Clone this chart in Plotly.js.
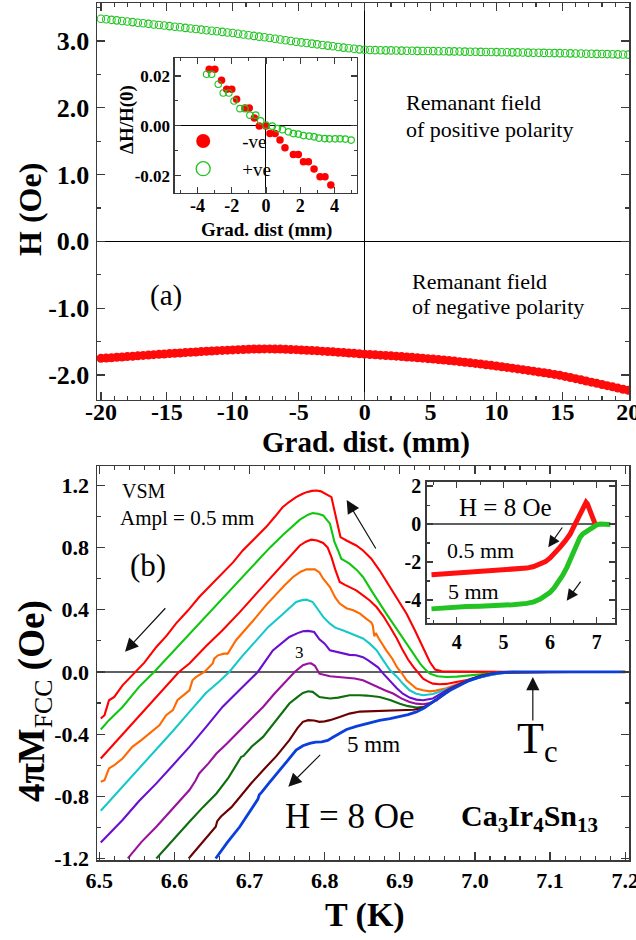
<!DOCTYPE html>
<html>
<head>
<meta charset="utf-8">
<script src="https://cdn.plot.ly/plotly-3.0.1.min.js"></script>
<style>
  html, body { margin: 0; padding: 0; background: #fff; }
  #chart { width: 636px; height: 940px; }
</style>
</head>
<body>
<div id="chart"></div>
<script>
// ---------- Panel (a): remanant field vs gradiometer distance ----------
const gradDist = [-20,-19.6,-19.2,-18.8,-18.4,-18,-17.6,-17.2,-16.8,-16.4,-16,-15.6,-15.2,-14.8,-14.4,-14,-13.6,-13.2,-12.8,-12.4,
  -12,-11.6,-11.2,-10.8,-10.4,-10,-9.6,-9.2,-8.8,-8.4,-8,-7.6,-7.2,-6.8,-6.4,-6,-5.6,-5.2,-4.8,-4.4,
  -4,-3.6,-3.2,-2.8,-2.4,-2,-1.6,-1.2,-0.8,-0.4,0,0.4,0.8,1.2,1.6,2,2.4,2.8,3.2,3.6,
  4,4.4,4.8,5.2,5.6,6,6.4,6.8,7.2,7.6,8,8.4,8.8,9.2,9.6,10,10.4,10.8,11.2,11.6,
  12,12.4,12.8,13.2,13.6,14,14.4,14.8,15.2,15.6,16,16.4,16.8,17.2,17.6,18,18.4,18.8,19.2,19.6,20];

const fieldPositive = [3.335,3.326,3.318,3.310,3.300,3.292,3.284,3.274,3.267,3.258,
  3.249,3.240,3.232,3.224,3.214,3.206,3.198,3.189,3.180,3.172,
  3.163,3.155,3.146,3.137,3.128,3.120,3.110,3.098,3.088,3.077,
  3.066,3.056,3.045,3.034,3.023,3.012,3.001,2.990,2.980,2.970,
  2.961,2.951,2.942,2.932,2.922,2.912,2.902,2.893,2.884,2.876,
  2.870,2.866,2.864,2.863,2.861,2.860,2.858,2.857,2.856,2.855,
  2.853,2.852,2.851,2.850,2.848,2.847,2.846,2.845,2.843,2.842,
  2.841,2.840,2.838,2.837,2.836,2.835,2.833,2.832,2.831,2.830,
  2.828,2.827,2.826,2.824,2.823,2.822,2.820,2.819,2.817,2.816,
  2.814,2.813,2.811,2.810,2.808,2.806,2.805,2.803,2.801,2.799,2.797];

const fieldNegative = [-1.752,-1.747,-1.742,-1.736,-1.731,-1.725,-1.720,-1.714,-1.708,-1.703,
  -1.697,-1.692,-1.686,-1.681,-1.676,-1.671,-1.666,-1.661,-1.656,-1.651,
  -1.646,-1.642,-1.637,-1.633,-1.629,-1.625,-1.622,-1.619,-1.616,-1.613,
  -1.611,-1.610,-1.610,-1.611,-1.613,-1.616,-1.619,-1.622,-1.626,-1.630,
  -1.634,-1.639,-1.644,-1.649,-1.654,-1.660,-1.665,-1.671,-1.677,-1.683,
  -1.689,-1.694,-1.699,-1.704,-1.709,-1.714,-1.719,-1.725,-1.731,-1.737,
  -1.743,-1.749,-1.756,-1.763,-1.770,-1.777,-1.785,-1.793,-1.801,-1.810,
  -1.819,-1.828,-1.837,-1.847,-1.857,-1.867,-1.877,-1.888,-1.899,-1.910,
  -1.921,-1.932,-1.944,-1.956,-1.968,-1.980,-1.992,-2.005,-2.022,-2.039,
  -2.056,-2.073,-2.091,-2.108,-2.126,-2.143,-2.161,-2.179,-2.197,-2.215,-2.230];

// inset of (a): relative field change near the centre
const insetDistNeg = [-3.32,-2.99,-2.6,-2.3,-2.0,-1.72,-1.23,-0.98,-0.68,-0.39,0.0,0.23,0.53,0.82,1.11,1.6,1.89,2.19,2.48,2.81,3.16,3.45,3.79];
const insetRelNeg = [0.0227,0.0227,0.0183,0.0147,0.0147,0.0107,0.0072,0.0072,0.0032,0.0,0.0,-0.0031,-0.0031,-0.0057,-0.0088,-0.0115,-0.0115,-0.0144,-0.0144,-0.0173,-0.0204,-0.0204,-0.0237];
const insetDistPos = [-3.47,-3.18,-2.79,-2.5,-2.17,-1.87,-1.52,-1.23,-0.94,-0.6,-0.31,0.0,0.37,0.66,0.96,1.31,1.6,1.89,2.19,2.52,2.81,3.1,3.43,3.71,4.04,4.33,4.64,4.98];
const insetRelPos = [0.0207,0.0207,0.0167,0.0132,0.0132,0.01,0.0069,0.0069,0.0043,0.0043,0.002,0.0003,-0.0001,-0.0011,-0.0015,-0.0024,-0.0031,-0.0033,-0.0039,-0.0041,-0.0044,-0.0049,-0.0051,-0.0052,-0.0052,-0.0052,-0.0053,-0.0057];
const insetSeriesNames = ['-ve', '+ve'];

// ---------- Panel (b): FCC magnetisation for increasing VSM amplitude ----------
const fccColors = ['#ff0000','#11c611','#ff0000','#ff6a00','#18c8c8','#6a0fd0','#99119e','#0d6e0d','#6b0000','#0a3fdc'];

const fccT = [
  [6.502,6.507,6.513,6.520,6.531,6.540,6.549,6.560,6.576,6.590,6.602,6.618,6.633,6.649,6.664,6.678,6.691,6.707,6.722,6.734,6.744,6.753,6.762,6.770,6.776,6.783,6.789,6.795,6.802,6.809,6.816,6.821,6.829,6.842,6.851,6.862,6.873,6.884,6.896,6.909,6.920,6.931,6.940,6.947,6.956,6.975,7.000,7.030,7.060,7.100,7.150,7.200],
  [6.502,6.513,6.531,6.553,6.573,6.597,6.620,6.642,6.664,6.687,6.709,6.727,6.744,6.756,6.767,6.778,6.784,6.791,6.798,6.807,6.813,6.818,6.822,6.828,6.833,6.843,6.851,6.862,6.873,6.882,6.891,6.900,6.909,6.918,6.927,6.934,6.940,6.950,6.962,6.976,6.990,7.002,7.018,7.033,7.060,7.100,7.150,7.200],
  [6.502,6.520,6.540,6.560,6.584,6.606,6.620,6.642,6.664,6.687,6.709,6.727,6.744,6.756,6.767,6.775,6.782,6.790,6.798,6.804,6.809,6.814,6.820,6.827,6.833,6.842,6.851,6.860,6.869,6.878,6.887,6.896,6.904,6.911,6.918,6.925,6.931,6.938,6.944,6.953,6.962,6.975,6.989,7.002,7.016,7.030,7.045,7.080,7.130,7.200],
  [6.502,6.507,6.513,6.520,6.531,6.544,6.556,6.567,6.580,6.589,6.598,6.604,6.612,6.620,6.624,6.629,6.640,6.647,6.651,6.653,6.658,6.666,6.671,6.682,6.696,6.709,6.722,6.736,6.747,6.758,6.768,6.776,6.787,6.793,6.798,6.807,6.814,6.820,6.829,6.838,6.847,6.856,6.862,6.864,6.866,6.868,6.872,6.882,6.890,6.896,6.903,6.909,6.916,6.922,6.931,6.940,6.948,6.962,6.975,6.989,7.002,7.016,7.030,7.045,7.080,7.130,7.200],
  [6.502,6.531,6.553,6.576,6.598,6.620,6.642,6.660,6.673,6.690,6.709,6.725,6.740,6.752,6.762,6.770,6.776,6.784,6.791,6.798,6.807,6.814,6.824,6.834,6.842,6.851,6.860,6.869,6.878,6.887,6.896,6.904,6.913,6.922,6.931,6.944,6.953,6.962,6.975,6.989,7.002,7.016,7.033,7.050,7.080,7.130,7.200],
  [6.502,6.531,6.553,6.576,6.598,6.620,6.642,6.664,6.688,6.711,6.731,6.745,6.753,6.764,6.771,6.778,6.786,6.793,6.800,6.807,6.816,6.824,6.833,6.842,6.851,6.858,6.864,6.871,6.878,6.887,6.896,6.904,6.913,6.922,6.931,6.944,6.955,6.967,6.980,6.993,7.008,7.024,7.040,7.060,7.100,7.150,7.200],
  [6.538,6.556,6.576,6.598,6.620,6.628,6.633,6.645,6.656,6.670,6.687,6.702,6.718,6.733,6.749,6.760,6.771,6.778,6.782,6.787,6.793,6.800,6.807,6.818,6.829,6.840,6.851,6.860,6.869,6.880,6.891,6.902,6.913,6.922,6.931,6.940,6.949,6.958,6.967,6.980,6.993,7.008,7.024,7.040,7.060,7.100,7.150,7.200],
  [6.576,6.598,6.620,6.638,6.656,6.672,6.686,6.689,6.692,6.703,6.718,6.736,6.753,6.764,6.771,6.778,6.784,6.793,6.800,6.807,6.818,6.833,6.847,6.856,6.873,6.887,6.900,6.911,6.922,6.933,6.944,6.955,6.967,6.980,6.993,7.008,7.024,7.040,7.060,7.100,7.150,7.200],
  [6.619,6.637,6.655,6.657,6.662,6.676,6.687,6.702,6.718,6.736,6.753,6.764,6.771,6.778,6.786,6.793,6.800,6.807,6.820,6.833,6.847,6.856,6.873,6.887,6.900,6.918,6.930,6.944,6.956,6.967,6.980,6.993,7.008,7.024,7.040,7.060,7.100,7.150,7.200],
  [6.655,6.670,6.687,6.700,6.711,6.713,6.716,6.725,6.736,6.749,6.762,6.771,6.780,6.788,6.796,6.804,6.811,6.820,6.829,6.842,6.856,6.873,6.887,6.900,6.911,6.922,6.933,6.944,6.955,6.967,6.980,6.993,7.008,7.024,7.038,7.051,7.080,7.120,7.160,7.200]
];

const fccM = [
  [-0.300,-0.278,-0.182,-0.161,-0.086,-0.040,0.000,0.060,0.161,0.235,0.311,0.395,0.482,0.560,0.632,0.705,0.782,0.860,0.932,1.000,1.060,1.095,1.125,1.145,1.157,1.165,1.168,1.162,1.146,1.125,0.975,0.868,0.846,0.814,0.782,0.729,0.654,0.568,0.482,0.375,0.268,0.161,0.064,0.015,0.004,0.002,0.000,0.000,0.000,0.000,0.000,0.000],
  [-0.370,-0.310,-0.225,-0.096,0.000,0.125,0.245,0.360,0.475,0.590,0.710,0.800,0.880,0.935,0.980,1.012,1.022,1.018,1.007,0.954,0.836,0.780,0.729,0.712,0.697,0.655,0.611,0.525,0.440,0.375,0.311,0.246,0.182,0.118,0.054,0.015,-0.011,-0.028,-0.032,-0.030,-0.024,-0.020,-0.010,-0.004,0.000,0.000,0.000,0.000],
  [-0.557,-0.460,-0.355,-0.245,-0.118,0.000,0.054,0.165,0.268,0.385,0.504,0.600,0.697,0.760,0.814,0.838,0.851,0.846,0.830,0.800,0.739,0.660,0.579,0.560,0.546,0.525,0.493,0.460,0.418,0.360,0.289,0.215,0.139,0.080,0.032,-0.010,-0.043,-0.062,-0.075,-0.079,-0.077,-0.065,-0.054,-0.040,-0.025,-0.012,-0.003,0.000,0.000,0.000],
  [-0.707,-0.696,-0.621,-0.600,-0.557,-0.482,-0.439,-0.396,-0.343,-0.278,-0.246,-0.182,-0.150,-0.118,-0.054,-0.032,0.000,0.032,0.054,0.086,0.107,0.118,0.118,0.204,0.280,0.354,0.430,0.504,0.560,0.611,0.645,0.660,0.660,0.640,0.600,0.546,0.480,0.440,0.410,0.397,0.375,0.340,0.318,0.300,0.230,0.250,0.215,0.139,0.085,0.032,-0.010,-0.054,-0.085,-0.107,-0.118,-0.125,-0.120,-0.105,-0.080,-0.055,-0.035,-0.018,-0.006,-0.001,0.000,0.000,0.000],
  [-0.893,-0.739,-0.620,-0.503,-0.380,-0.257,-0.135,-0.060,0.000,0.100,0.204,0.290,0.354,0.410,0.450,0.462,0.465,0.450,0.400,0.354,0.311,0.285,0.268,0.250,0.236,0.215,0.182,0.140,0.075,0.010,-0.030,-0.075,-0.118,-0.140,-0.150,-0.142,-0.128,-0.112,-0.088,-0.062,-0.042,-0.024,-0.009,-0.002,0.000,0.000,0.000],
  [-1.097,-0.953,-0.830,-0.717,-0.600,-0.482,-0.355,-0.225,-0.110,0.000,0.139,0.190,0.225,0.250,0.262,0.264,0.257,0.210,0.182,0.139,0.129,0.118,0.110,0.107,0.095,0.075,0.054,0.030,-0.011,-0.060,-0.105,-0.140,-0.165,-0.178,-0.182,-0.171,-0.140,-0.105,-0.075,-0.047,-0.025,-0.008,-0.002,0.000,0.000,0.000,0.000],
  [-1.200,-1.095,-0.996,-0.880,-0.760,-0.700,-0.653,-0.590,-0.525,-0.460,-0.375,-0.300,-0.225,-0.140,-0.054,0.000,0.043,0.054,0.055,0.040,-0.011,-0.022,-0.028,-0.032,-0.036,-0.042,-0.054,-0.075,-0.095,-0.118,-0.139,-0.170,-0.193,-0.204,-0.208,-0.200,-0.182,-0.150,-0.113,-0.080,-0.050,-0.025,-0.009,-0.002,0.000,0.000,0.000,0.000],
  [-1.200,-1.080,-0.964,-0.870,-0.782,-0.680,-0.570,-0.546,-0.540,-0.480,-0.418,-0.310,-0.203,-0.160,-0.135,-0.124,-0.128,-0.161,-0.168,-0.171,-0.165,-0.150,-0.150,-0.152,-0.161,-0.180,-0.204,-0.220,-0.229,-0.225,-0.195,-0.155,-0.113,-0.080,-0.050,-0.025,-0.009,-0.002,0.000,0.000,0.000,0.000],
  [-1.200,-1.100,-0.996,-0.960,-0.930,-0.870,-0.803,-0.718,-0.632,-0.540,-0.439,-0.360,-0.321,-0.310,-0.312,-0.321,-0.318,-0.310,-0.290,-0.268,-0.255,-0.253,-0.253,-0.250,-0.245,-0.243,-0.232,-0.192,-0.150,-0.115,-0.080,-0.052,-0.026,-0.010,-0.002,0.000,0.000,0.000,0.000],
  [-1.200,-1.100,-0.996,-0.900,-0.820,-0.790,-0.775,-0.720,-0.653,-0.580,-0.503,-0.475,-0.460,-0.452,-0.450,-0.440,-0.420,-0.395,-0.370,-0.350,-0.332,-0.311,-0.300,-0.289,-0.275,-0.257,-0.230,-0.193,-0.155,-0.118,-0.085,-0.054,-0.030,-0.011,-0.003,0.000,0.000,0.000,0.000,0.000]
];

// inset of (b): wide temperature sweep for two amplitudes
const wideT05 = [3.46,3.70,4.00,4.21,4.50,4.93,5.20,5.50,5.65,5.79,5.90,6.00,6.10,6.21,6.32,6.43,6.50,6.57,6.63,6.68,6.73,6.77,6.80,6.86,6.92,6.96,7.00];
const wideM05 = [-2.67,-2.63,-2.58,-2.55,-2.52,-2.46,-2.40,-2.32,-2.24,-2.11,-1.98,-1.79,-1.55,-1.23,-0.90,-0.53,-0.18,0.17,0.50,0.79,1.00,1.14,1.05,0.70,0.30,0.03,0.00];
const wideT5 = [3.46,3.70,4.00,4.21,4.50,4.93,5.20,5.50,5.65,5.79,5.90,6.00,6.09,6.18,6.27,6.36,6.43,6.50,6.57,6.64,6.70,6.75,6.80,6.86,6.93,7.00,7.07,7.20,7.29];
const wideM5 = [-4.47,-4.42,-4.38,-4.35,-4.33,-4.30,-4.25,-4.18,-4.10,-3.95,-3.80,-3.60,-3.35,-3.07,-2.70,-2.28,-1.85,-1.40,-1.02,-0.70,-0.52,-0.44,-0.36,-0.26,-0.13,-0.04,0.00,0.00,-0.02];

// tick labels
const tickA_x = [-20,-15,-10,-5,0,5,10,15,20];
const tickA_xText = ['-20','-15','-10','-5','0','5','10','15','20'];
const tickA_y = [-2,-1,0,1,2,3];
const tickA_yText = ['-2.0','-1.0','0.0','1.0','2.0','3.0'];
const tickAi_x = [-4,-2,0,2,4];
const tickAi_xText = ['-4','-2','0','2','4'];
const tickAi_y = [-0.02,0,0.02];
const tickAi_yText = ['-0.02','0.00','0.02'];
const tickB_x = [6.5,6.6,6.7,6.8,6.9,7.0,7.1,7.2];
const tickB_xText = ['6.5','6.6','6.7','6.8','6.9','7.0','7.1','7.2'];
const tickB_y = [-1.2,-0.8,-0.4,0,0.4,0.8,1.2];
const tickB_yText = ['-1.2','-0.8','-0.4','0.0','0.4','0.8','1.2'];
const tickBi_x = [4,5,6,7];
const tickBi_xText = ['4','5','6','7'];
const tickBi_y = [-4,-2,0,2];
const tickBi_yText = ['-4','-2','0','2'];

// ---------- drawing ----------
const SERIF = 'Liberation Serif';
const FRAME = '#3a3a3a';
const LEGEND_PAD = '\u00a0\u00a0\u00a0\u00a0';   // extra room between legend symbol and its label

function frameAxis(o) {
  return {
    domain: o.domain, anchor: o.anchor, range: o.range,
    tickmode: 'array', tickvals: o.vals, ticktext: o.text,
    ticks: 'inside', ticklen: o.ticklen || 8, tickwidth: 1.2, tickcolor: FRAME,
    minor: { tick0: o.minor0 || 0, dtick: o.minor, ticks: 'inside', ticklen: o.minorlen || 4, tickwidth: 1.1, tickcolor: FRAME },
    showline: true, linecolor: FRAME, linewidth: 1.5, mirror: 'ticks',
    showgrid: false, zeroline: !!o.zero, zerolinecolor: o.zerocolor || '#000', zerolinewidth: o.zerowidth || 1,
    tickfont: { family: SERIF, size: o.font, color: '#000', weight: 'bold' },
    ticklabelstandoff: o.standoff || 0,
    ticklabeloverflow: 'allow',
    fixedrange: true
  };
}

const traces = [];

traces.push({ x: gradDist, y: fieldPositive, xaxis: 'x', yaxis: 'y', type: 'scatter', mode: 'markers',
  marker: { symbol: 'circle-open', size: 7.5, color: '#1fc41f', line: { width: 1.1 } }, showlegend: false });
traces.push({ x: gradDist, y: fieldNegative, xaxis: 'x', yaxis: 'y', type: 'scatter', mode: 'markers',
  marker: { symbol: 'circle', size: 9, color: '#ff0a0a' }, showlegend: false });

traces.push({ x: insetDistNeg, y: insetRelNeg, xaxis: 'x3', yaxis: 'y3', type: 'scatter', mode: 'markers',
  marker: { symbol: 'circle', size: 7.5, color: '#ff0000' }, showlegend: false });
traces.push({ x: insetDistPos, y: insetRelPos, xaxis: 'x3', yaxis: 'y3', type: 'scatter', mode: 'markers',
  marker: { symbol: 'circle-open', size: 6.5, color: '#1fc41f', line: { width: 1.1 } }, showlegend: false });
// legend entries of the inset (larger symbols, no data of their own)
traces.push({ x: [null], y: [null], xaxis: 'x3', yaxis: 'y3', type: 'scatter', mode: 'markers',
  name: LEGEND_PAD + insetSeriesNames[0],
  marker: { symbol: 'circle', size: 14, color: '#ff0000' }, showlegend: true });
traces.push({ x: [null], y: [null], xaxis: 'x3', yaxis: 'y3', type: 'scatter', mode: 'markers',
  name: LEGEND_PAD + insetSeriesNames[1],
  marker: { symbol: 'circle-open', size: 14, color: '#1fc41f', line: { width: 1.3 } }, showlegend: true });

for (let i = 0; i < fccT.length; i++) {
  traces.push({ x: fccT[i], y: fccM[i], xaxis: 'x2', yaxis: 'y2', type: 'scatter', mode: 'lines',
    line: { color: fccColors[i], width: i === fccT.length - 1 ? 2.8 : 2.1 }, showlegend: false });
}

traces.push({ x: wideT05, y: wideM05, xaxis: 'x4', yaxis: 'y4', type: 'scatter', mode: 'lines',
  line: { color: '#ff1010', width: 5 }, showlegend: false });
traces.push({ x: wideT5, y: wideM5, xaxis: 'x4', yaxis: 'y4', type: 'scatter', mode: 'lines',
  line: { color: '#22c322', width: 5 }, showlegend: false });

function txt(text, x, y, size, ref, extra) {
  return Object.assign({ text: text, x: x, y: y, xref: ref[0], yref: ref[1], showarrow: false,
    xanchor: 'left', yanchor: 'middle', font: { family: SERIF, size: size, color: '#000' } }, extra || {});
}
function arrow(x, y, ax, ay, ref, size) {
  return { text: '', x: x, y: y, ax: ax, ay: ay, xref: ref[0], yref: ref[1], axref: ref[0], ayref: ref[1],
    showarrow: true, arrowhead: 2, arrowsize: size, arrowwidth: 1.2, arrowcolor: '#111' };
}
const A = ['x', 'y'], B = ['x2', 'y2'], BI = ['x4', 'y4'], P = ['paper', 'paper'];

const annotations = [
  // panel (a)
  txt('Remanant field', 2.99, 2.073, 22, A),
  txt('of positive polarity', 2.99, 1.683, 22, A),
  txt('Remanant field', 3.45, -0.608, 22, A),
  txt('of negative polarity', 3.45, -0.982, 22, A),
  txt('(a)', -15.06, -0.803, 29, A, { xanchor: 'center' }),
  // panel (b)
  txt('VSM', 6.5276, 1.164, 20, B),
  txt('Ampl = 0.5 mm', 6.525, 0.990, 21, B),
  txt('(b)', 6.5649, 0.682, 31, B, { xanchor: 'center' }),
  txt('3', 6.767, 0.122, 17, B, { xanchor: 'center' }),
  txt('5 mm', 6.827, -0.470, 23, B),
  txt('H = 8 Oe', 6.7445, -0.927, 35, B),
  txt('T<sub>c</sub>', 7.053, -0.45, 44, B),
  txt('<b>Ca<sub>3</sub>Ir<sub>4</sub>Sn<sub>13</sub></b>', 7.073, -0.94, 30, B, { xanchor: 'center' }),
  arrow(7.077, -0.033, 7.077, -0.322, B, 2.2),
  arrow(6.8293, 1.106, 6.8692, 0.785, B, 2.2),
  arrow(6.5343, 0.1302, 6.5898, 0.4197, B, 2.2),
  arrow(6.7516, -0.738, 6.7960, -0.5236, B, 2.2),
  // inset of (b)
  txt('H = 8 Oe', 5.055, 0.897, 25, BI, { xanchor: 'center' }),
  txt('0.5 mm', 4.499, -1.368, 22, BI, { xanchor: 'center' }),
  txt('5 mm', 4.370, -3.528, 22, BI, { xanchor: 'center' }),
  arrow(5.961, -1.226, 6.283, -0.104, BI, 1.9),
  arrow(6.356, -4.04, 6.677, -2.95, BI, 1.9),
  // axis titles
  txt('<b>Grad. dist. (mm)</b>', 0.5056, 0.4866, 29, P, { xanchor: 'center' }),
  txt('<b>H (Oe)</b>', -0.1259, 0.7585, 32, P, { xanchor: 'center', textangle: -90 }),
  txt('<b>T (K)</b>', 0.5038, -0.0642, 34, P, { xanchor: 'center' }),
  txt('<b>4πM</b><sub>FCC</sub><b> (Oe)</b>', -0.1184, 0.1855, 37, P, { xanchor: 'center', textangle: -90 }),
  txt('<b>Grad. dist (mm)</b>', 0.3177, 0.7352, 19, P, { xanchor: 'center' }),
  txt('<b>ΔH/H(0)</b>', 0.0564, 0.8635, 19, P, { xanchor: 'center', textangle: -90 })
];

const layout = {
  width: 636, height: 940,
  margin: { l: 97, r: 7, t: 3, b: 80 },
  paper_bgcolor: '#fff', plot_bgcolor: 'rgba(0,0,0,0)',
  font: { family: SERIF, color: '#000' },
  hovermode: false,
  showlegend: true,
  legend: { x: 0.162, y: 0.861, xanchor: 'left', yanchor: 'top', bgcolor: 'rgba(0,0,0,0)',
    font: { family: SERIF, size: 19, color: '#000' }, tracegroupgap: 0, itemwidth: 30 },
  xaxis: frameAxis({ domain: [0, 1], anchor: 'y', range: [-20.3, 20.05], vals: tickA_x, text: tickA_xText, minor: 1, font: 24, zero: true, standoff: -10 }),
  yaxis: frameAxis({ domain: [0.5368, 1], anchor: 'x', range: [-2.375, 3.57], vals: tickA_y, text: tickA_yText, minor: 0.5, font: 26, zero: true, standoff: 1 }),
  xaxis2: frameAxis({ domain: [0, 1], anchor: 'y2', range: [6.497, 7.205], vals: tickB_x, text: tickB_xText, minor: 0.02, font: 22, standoff: 0 }),
  yaxis2: frameAxis({ domain: [0, 0.4597], anchor: 'x2', range: [-1.21, 1.325], vals: tickB_y, text: tickB_yText, minor: 0.2, font: 22, zero: true, zerocolor: '#606060', zerowidth: 1.6, standoff: 2 }),
  xaxis3: frameAxis({ domain: [0.1466, 0.4887], anchor: 'y3', range: [-5.32, 5.32], vals: tickAi_x, text: tickAi_xText, minor: 1, font: 18, zero: true, ticklen: 6, minorlen: 3, standoff: -4 }),
  yaxis3: frameAxis({ domain: [0.7783, 0.9358], anchor: 'x3', range: [-0.0269, 0.0272], vals: tickAi_y, text: tickAi_yText, minor: 0.01, font: 17, zero: true, ticklen: 6, minorlen: 3, standoff: 0 }),
  xaxis4: frameAxis({ domain: [0.6197, 0.9737], anchor: 'y4', range: [3.357, 7.39], vals: tickBi_x, text: tickBi_xText, minor: 0.5, font: 20, ticklen: 6, minorlen: 3, standoff: 0 }),
  yaxis4: frameAxis({ domain: [0.2762, 0.4414], anchor: 'x4', range: [-5.23, 2.23], vals: tickBi_y, text: tickBi_yText, minor: 1, minor0: 1, font: 20, zero: true, zerocolor: '#606060', zerowidth: 1.5, ticklen: 6, minorlen: 3, standoff: 0 }),
  annotations: annotations
};

Plotly.newPlot('chart', traces, layout, { staticPlot: true, displayModeBar: false });
</script>
</body>
</html>
